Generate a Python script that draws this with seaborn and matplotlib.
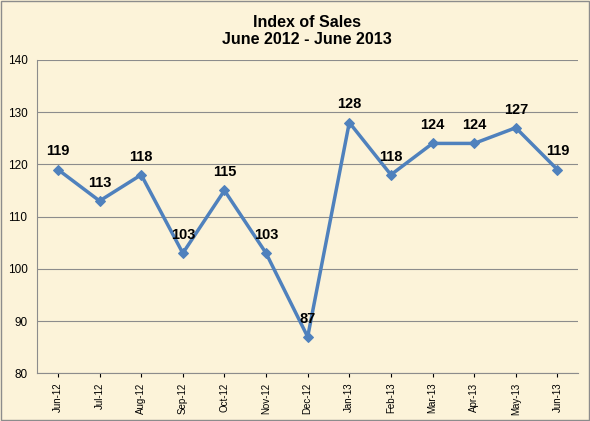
import matplotlib
matplotlib.use("Agg")
import matplotlib.pyplot as plt
import seaborn as sns
import pandas as pd

months = ['Jun-12', 'Jul-12', 'Aug-12', 'Sep-12', 'Oct-12', 'Nov-12', 'Dec-12',
          'Jan-13', 'Feb-13', 'Mar-13', 'Apr-13', 'May-13', 'Jun-13']
sales_index = [119, 113, 118, 103, 115, 103, 87, 128, 118, 124, 124, 127, 119]

df = pd.DataFrame({'Month': months, 'Index': sales_index})
df['pos'] = range(len(months))

sns.set_style("white")
plt.rcParams['font.family'] = ['Liberation Sans', 'DejaVu Sans']
plt.rcParams['text.color'] = 'black'
plt.rcParams['xtick.color'] = 'black'
plt.rcParams['ytick.color'] = 'black'

bg = '#fcf3d9'
fig = plt.figure(figsize=(5.9, 4.21), dpi=100, facecolor=bg)
ax = fig.add_axes([0.063, 0.113, 0.917, 0.745])
ax.set_facecolor(bg)

ax.yaxis.grid(True, color='#8c8c8c', linewidth=0.8)
ax.set_axisbelow(True)
sns.lineplot(data=df, x='pos', y='Index', ax=ax, color='#4f81bd', linewidth=2.5,
             marker='D', markersize=5, markeredgecolor='#4f81bd')

for x, y in zip(df['pos'], df['Index']):
    ax.annotate(str(y), (x, y), xytext=(0, 8), textcoords='offset points',
                ha='center', va='bottom', fontsize=10.5, fontweight='bold', color='black')

ax.set_xlim(-0.5, len(months) - 0.5)
ax.set_ylim(80, 140)
ax.set_yticks(range(80, 141, 10))
ax.set_xticks(df['pos'])
ax.set_xticklabels(months, rotation=90, fontsize=7)
ax.tick_params(axis='y', labelsize=8.5)
ax.tick_params(axis='x', length=3, direction='out', bottom=True)
ax.set_xlabel('')
ax.set_ylabel('')
for side in ['top', 'right']:
    ax.spines[side].set_visible(False)
for side in ['left', 'bottom']:
    ax.spines[side].set_color('#8c8c8c')

fig.text(0.52, 0.965, 'Index of Sales\nJune 2012 - June 2013', ha='center', va='top',
         fontsize=11.5, fontweight='bold', linespacing=1.15, color='black')
fig.patches.append(plt.Rectangle((0.002, 0.002), 0.996, 0.996, transform=fig.transFigure,
                                 fill=False, edgecolor='#8c8c8c', linewidth=1))

fig.savefig('out.png', dpi=100, facecolor=bg)
